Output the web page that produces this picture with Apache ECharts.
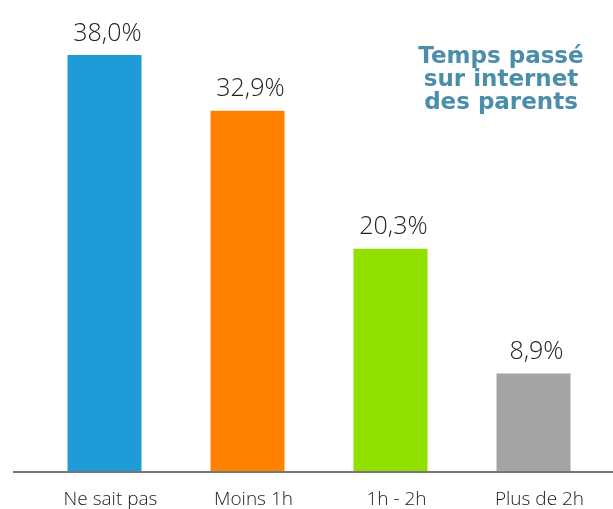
<!DOCTYPE html>
<html>
<head>
<meta charset="utf-8">
<script src="https://cdn.jsdelivr.net/npm/echarts@6/dist/echarts.min.js"></script>
<style>
  html, body { margin: 0; padding: 0; background: #fff; }
  #chart { width: 613px; height: 509px; }
</style>
</head>
<body>
<div id="chart"></div>
<script>
const categories = ['Ne sait pas', 'Moins 1h', '1h - 2h', 'Plus de 2h'];
const values = [38.0, 32.9, 20.3, 8.9];
const barColors = ['#1f9bd7', '#ff8300', '#92e000', '#a4a4a4'];
const titleText = 'Temps passé\nsur internet\ndes parents';

const chart = echarts.init(document.getElementById('chart'));

const option = {
  animation: false,
  grid: { left: 33, right: 8, top: 33, bottom: 37 },
  xAxis: {
    type: 'category',
    data: categories,
    axisLine: { show: false },
    axisTick: { show: false },
    axisLabel: {
      margin: 19,
      padding: [0, 0, 0, 12],
      fontFamily: 'Open Sans',
      fontWeight: 300,
      fontSize: 19,
      color: '#1a1a1a'
    }
  },
  yAxis: {
    type: 'value',
    min: 0,
    max: 40,
    show: false,
    splitLine: { show: false }
  },
  series: [{
    type: 'bar',
    barWidth: 74,
    data: values.map((v, i) => ({ value: v, itemStyle: { color: barColors[i] } })),
    label: {
      show: true,
      position: 'top',
      distance: 9,
      offset: [3, 0],
      fontFamily: 'Open Sans',
      fontWeight: 300,
      fontSize: 25,
      color: '#222',
      formatter: p => p.value.toFixed(1).replace('.', ',') + '%'
    }
  }],
  graphic: [{
    type: 'line',
    shape: { x1: 13, y1: 472, x2: 613, y2: 472 },
    style: { stroke: '#777', lineWidth: 2 }
  }, {
    type: 'text',
    x: 501,
    y: 46,
    style: {
      text: titleText,
      align: 'center',
      fontFamily: 'DejaVu Sans',
      fontWeight: 'bold',
      fontSize: 23,
      lineHeight: 23,
      fill: '#4a8eaa'
    }
  }]
};

chart.setOption(option);
</script>
</body>
</html>
